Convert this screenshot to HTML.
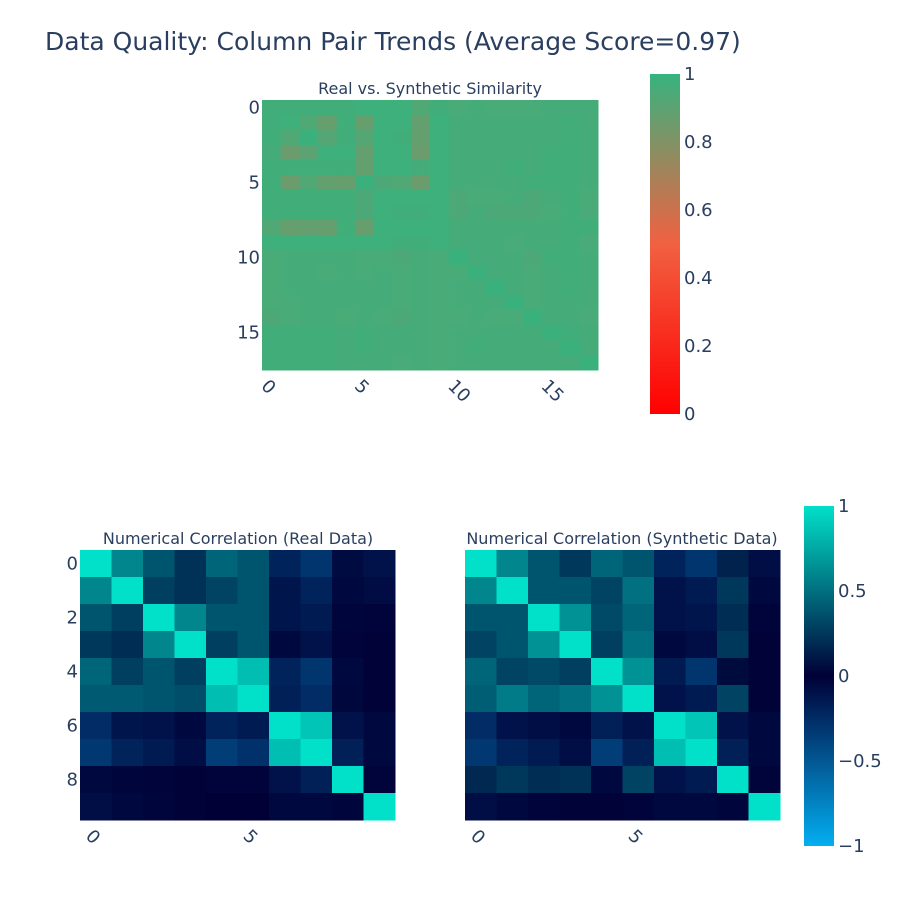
<!DOCTYPE html>
<html><head><meta charset="utf-8">
<style>
body{margin:0;background:#fff;}
svg{font-family:"DejaVu Sans","Liberation Sans",sans-serif;}
text{fill:#2a3f5f;}
</style></head>
<body>
<svg id="chart" width="900" height="900" viewBox="0 0 900 900" xmlns="http://www.w3.org/2000/svg">
<defs>
<linearGradient id="gSim" x1="0" y1="1" x2="0" y2="0">
<stop offset="0" stop-color="#FF0000"/><stop offset="0.5" stop-color="#F16141"/><stop offset="1" stop-color="#36B37E"/>
</linearGradient>
<linearGradient id="gCor" x1="0" y1="1" x2="0" y2="0">
<stop offset="0" stop-color="#03AFF1"/><stop offset="0.5" stop-color="#000036"/><stop offset="1" stop-color="#01E0C9"/>
</linearGradient>
</defs>
<text x="45" y="50" font-size="25">Data Quality: Column Pair Trends (Average Score=0.97)</text>
<text x="430" y="94" font-size="16" text-anchor="middle">Real vs. Synthetic Similarity</text>
<text x="238" y="544" font-size="16" text-anchor="middle">Numerical Correlation (Real Data)</text>
<text x="622" y="544" font-size="16" text-anchor="middle">Numerical Correlation (Synthetic Data)</text>
<g id="sim"></g>
<g id="real"></g>
<g id="synth"></g>
<rect x="650" y="74" width="30" height="340" fill="url(#gSim)"/>
<rect x="804" y="506" width="30" height="340" fill="url(#gCor)"/>
<g id="cb1" font-size="18"></g>
<g id="cb2" font-size="18"></g>
</svg>
<script>
const simTicks = [0, 0.2, 0.4, 0.6, 0.8, 1];
const corTicks = [-1, -0.5, 0, 0.5, 1];
const similarity = [
[.97,.97,.97,.97,.97,.98,.98,.98,.93,.97,.95,.96,.95,.95,.95,.96,.96,.96],
[.97,.98,.93,.87,.97,.87,.98,.98,.88,.98,.96,.96,.96,.96,.96,.96,.97,.96],
[.97,.93,.99,.92,.97,.92,.98,.97,.88,.98,.96,.96,.96,.96,.96,.96,.97,.96],
[.96,.86,.90,.98,.98,.88,.98,.98,.86,.98,.96,.96,.96,.96,.96,.97,.97,.96],
[.97,.97,.97,.97,.97,.88,.98,.98,.96,.98,.96,.96,.96,.97,.96,.97,.97,.96],
[.97,.86,.93,.88,.87,.99,.94,.93,.86,.98,.96,.96,.96,.96,.97,.97,.97,.96],
[.97,.97,.97,.97,.97,.94,.98,.98,.98,.98,.94,.95,.95,.96,.94,.96,.97,.95],
[.97,.97,.97,.97,.97,.94,.98,.97,.97,.98,.94,.96,.94,.94,.94,.95,.97,.95],
[.93,.87,.88,.87,.97,.87,.98,.98,.98,.98,.96,.96,.96,.96,.96,.96,.97,.97],
[.98,.98,.98,.98,.98,.98,.98,.97,.97,.98,.96,.96,.96,.95,.96,.96,.97,.95],
[.95,.96,.96,.96,.96,.95,.95,.94,.96,.95,.99,.96,.96,.96,.94,.97,.97,.96],
[.95,.96,.96,.95,.96,.95,.96,.95,.96,.95,.95,.99,.96,.96,.95,.96,.97,.96],
[.95,.96,.96,.96,.96,.96,.96,.95,.96,.95,.96,.96,.99,.96,.95,.96,.97,.96],
[.95,.95,.96,.96,.96,.96,.96,.95,.96,.95,.96,.96,.96,.99,.95,.96,.96,.96],
[.94,.95,.96,.96,.95,.96,.95,.94,.96,.95,.95,.96,.95,.95,.99,.96,.96,.95],
[.97,.97,.97,.97,.96,.97,.96,.96,.96,.95,.96,.96,.96,.96,.96,.99,.97,.96],
[.97,.97,.97,.97,.96,.97,.96,.96,.96,.95,.96,.97,.96,.96,.96,.96,.99,.96],
[.97,.97,.97,.97,.96,.96,.96,.95,.96,.95,.96,.96,.96,.96,.96,.96,.96,.99]
];
const realCorr = [
[1,.6,.38,.22,.45,.38,-.2,-.3,-.06,-.1],
[.6,1,.28,.22,.3,.38,-.12,-.2,-.05,-.07],
[.38,.28,1,.6,.38,.38,-.12,-.15,-.03,-.02],
[.25,.2,.6,1,.28,.38,-.05,-.1,-.02,-.01],
[.45,.28,.38,.28,1,.85,-.2,-.3,-.05,-.01],
[.4,.4,.38,.35,.85,1,-.18,-.25,-.04,-.01],
[-.25,-.12,-.1,-.05,-.2,-.15,1,.88,-.1,-.05],
[-.32,-.2,-.15,-.08,-.35,-.28,.85,1,-.18,-.05],
[-.05,-.03,-.02,-.01,-.02,-.02,-.1,-.18,1,-.02],
[-.08,-.05,-.03,-.01,0,0,-.05,-.05,-.03,1]
];
const synthCorr = [
[1,.6,.38,.25,.45,.38,-.2,-.3,.15,-.08],
[.6,1,.38,.38,.3,.5,-.1,-.15,.25,-.05],
[.38,.38,1,.65,.33,.45,-.1,-.12,.2,-.02],
[.3,.38,.65,1,.28,.5,-.05,-.08,.25,-.01],
[.45,.3,.33,.28,1,.65,-.15,-.3,.05,-.01],
[.42,.55,.45,.5,.65,1,-.1,-.15,.3,-.01],
[-.25,-.1,-.08,-.05,-.18,-.1,1,.88,-.1,-.05],
[-.32,-.2,-.15,-.08,-.35,-.18,.85,1,-.18,-.05],
[.18,.25,.2,.22,-.05,.3,-.1,-.15,1,-.02],
[-.08,-.05,-.02,-.01,-.01,-.02,-.05,-.05,-.03,1]
];
const NS="http://www.w3.org/2000/svg";
function hex(h){return [1,3,5].map(i=>parseInt(h.substr(i,2),16));}
function scale(stops,t){
  t=Math.max(0,Math.min(1,t));
  for(let i=1;i<stops.length;i++){if(t<=stops[i][0]){const a=stops[i-1],b=stops[i];const f=(t-a[0])/(b[0]-a[0]);const ca=hex(a[1]),cb=hex(b[1]);return 'rgb('+ca.map((v,k)=>Math.round(v+(cb[k]-v)*f)).join(',')+')';}}
  return stops[stops.length-1][1];
}
const simStops=[[0,'#FF0000'],[0.5,'#F16141'],[1,'#36B37E']];
const corStops=[[0,'#03AFF1'],[0.5,'#000036'],[1,'#01E0C9']];
function mk(tag,attrs,parent){const e=document.createElementNS(NS,tag);for(const k in attrs)e.setAttribute(k,attrs[k]);parent.appendChild(e);return e;}
function heat(gid,data,x0,y0,w,h,stops,norm,yT,xT,name){
  const g=document.getElementById(gid);const n=data.length;const cw=w/n,ch=h/n;
  const xs=i=>x0+i*cw, ys=j=>y0+j*ch;
  data.forEach((row,j)=>row.forEach((v,i)=>{
    const r=mk('rect',{x:xs(i),y:ys(j),width:cw+0.5,height:ch+0.5,fill:scale(stops,norm(v))},g);
    
    
  }));
  yT.forEach(t=>{const e=mk('text',{x:x0-2,y:ys(t)+ch/2+6,'text-anchor':'end','font-size':18},g);e.textContent=t;
    
    });
  xT.forEach(t=>{const cx=xs(t)+cw/2-2,cy=y0+h+8;const e=mk('text',{x:cx,y:cy,'font-size':18,transform:'rotate(45 '+cx+' '+cy+')','dominant-baseline':'hanging'},g);e.textContent=t;
    
    });
}
heat('sim',similarity,262,100,336,270,simStops,v=>v,[0,5,10,15],[0,5,10,15],'similarity');
heat('real',realCorr,80,550,315,270,corStops,v=>(v+1)/2,[0,2,4,6,8],[0,5],'real-corr');
heat('synth',synthCorr,465,550,315,270,corStops,v=>(v+1)/2,[],[0,5],'synth-corr');
function cbar(gid,ticks,x,y0,h,lo,hi){
  const g=document.getElementById(gid);
  ticks.forEach(t=>{const y=y0+h-(t-lo)/(hi-lo)*h;const e=mk('text',{x:x,y:y+6},g);e.textContent=String(t).replace('-','\u2212');
    
    });
}
cbar('cb1',simTicks,684,74,340,0,1);
cbar('cb2',corTicks,838,506,340,-1,1);
</script>
</body></html>
